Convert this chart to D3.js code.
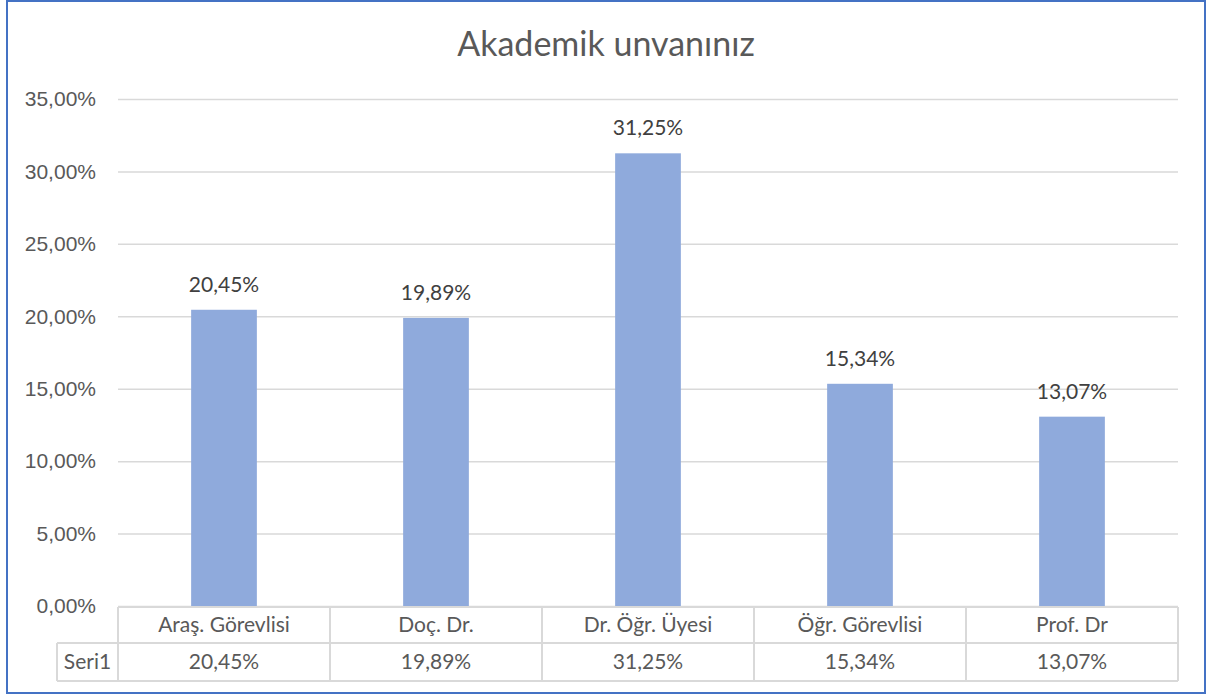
<!DOCTYPE html>
<html>
<head>
<meta charset="utf-8">
<script src="https://cdn.jsdelivr.net/npm/d3@7"></script>
<style>
  body { margin: 0; background: #fff; }
  svg { display: block; font-family: Lato, "Noto Sans", sans-serif; }
</style>
</head>
<body>
<script>
// chart data
var categories = ["Araş. Görevlisi", "Doç. Dr.", "Dr. Öğr. Üyesi", "Öğr. Görevlisi", "Prof. Dr"];
var values = [20.45, 19.89, 31.25, 15.34, 13.07];
var seriesName = "Seri1";
var yTicks = [0, 5, 10, 15, 20, 25, 30, 35];

var W = 1208, H = 695;
var margin = {top: 99, right: 30, bottom: 89, left: 118},
    width = W - margin.left - margin.right,
    height = H - margin.top - margin.bottom;

var fmt = function (v) { return v.toFixed(2).replace(".", ",") + "%"; };

var svg = d3.select("body")
  .append("svg")
  .attr("width", W)
  .attr("height", H);

// outer frame
svg.append("rect")
  .attr("x", 7).attr("y", 1)
  .attr("width", 1198).attr("height", 692)
  .attr("fill", "#fff")
  .attr("stroke", "#4472C4")
  .attr("stroke-width", 2);

svg.append("text")
  .text("Akademik unvanınız")
  .attr("x", 606).attr("y", 56)
  .attr("text-anchor", "middle")
  .attr("fill", "#595959")
  .style("font-size", "34px");

var chart = svg.append("g")
  .attr("transform", "translate(" + margin.left + "," + margin.top + ")");

var xscale = d3.scaleBand()
  .domain(categories)
  .range([0, width])
  .paddingInner(0.69)
  .paddingOuter(0.345);

var xcol = d3.scaleBand()
  .domain(categories)
  .range([0, width]);

var yscale = d3.scaleLinear()
  .domain([0, 35])
  .range([height, 0]);

// gridlines + tick labels
var yAxis = chart.append("g")
  .call(d3.axisLeft(yscale).tickValues(yTicks).tickSize(-width).tickFormat(fmt).tickPadding(22));
yAxis.select(".domain").remove();
yAxis.selectAll("line").attr("stroke", "#d9d9d9").attr("stroke-width", 1.5);
yAxis.selectAll("text").attr("fill", "#595959").style("font-size", "21px").attr("font-family", null);

// bars
chart.selectAll(".bar")
  .data(values)
  .enter()
  .append("rect")
  .attr("x", (d, i) => xscale(categories[i]))
  .attr("y", d => yscale(d))
  .attr("width", xscale.bandwidth())
  .attr("height", d => height - yscale(d))
  .attr("fill", "#8FAADC");

// data labels
chart.selectAll(".lbl")
  .data(values)
  .enter()
  .append("text")
  .text(fmt)
  .attr("x", (d, i) => xscale(categories[i]) + xscale.bandwidth() / 2)
  .attr("y", d => yscale(d) - 18)
  .attr("text-anchor", "middle")
  .attr("fill", "#404040")
  .style("font-size", "21px");

// data table
var rowH1 = 36, rowH2 = 38, keyW = 61;
var table = chart.append("g").attr("transform", "translate(0," + (height + 1) + ")");
var lineColor = "#d9d9d9";

table.append("line").attr("x1", 0).attr("x2", width).attr("y1", 0).attr("y2", 0);
table.append("line").attr("x1", -keyW).attr("x2", width).attr("y1", rowH1).attr("y2", rowH1);
table.append("line").attr("x1", -keyW).attr("x2", width).attr("y1", rowH1 + rowH2).attr("y2", rowH1 + rowH2);
table.append("line").attr("x1", -keyW).attr("x2", -keyW).attr("y1", rowH1).attr("y2", rowH1 + rowH2);
table.selectAll(".col")
  .data(categories.concat([null]))
  .enter()
  .append("line")
  .attr("x1", (d, i) => i * xcol.bandwidth())
  .attr("x2", (d, i) => i * xcol.bandwidth())
  .attr("y1", 0)
  .attr("y2", rowH1 + rowH2);
table.selectAll("line").attr("stroke", lineColor).attr("stroke-width", 2);

table.selectAll(".cat")
  .data(categories)
  .enter()
  .append("text")
  .text(d => d)
  .attr("x", d => xcol(d) + xcol.bandwidth() / 2)
  .attr("y", rowH1 / 2)
  .attr("dy", "0.35em")
  .attr("text-anchor", "middle")
  .attr("fill", "#595959")
  .style("font-size", "21px");

table.selectAll(".val")
  .data(values)
  .enter()
  .append("text")
  .text(fmt)
  .attr("x", (d, i) => xcol(categories[i]) + xcol.bandwidth() / 2)
  .attr("y", rowH1 + rowH2 / 2)
  .attr("dy", "0.35em")
  .attr("text-anchor", "middle")
  .attr("fill", "#595959")
  .style("font-size", "21px");

table.append("text")
  .text(seriesName)
  .attr("x", -keyW / 2)
  .attr("y", rowH1 + rowH2 / 2)
  .attr("dy", "0.35em")
  .attr("text-anchor", "middle")
  .attr("fill", "#595959")
  .style("font-size", "21px");
</script>
</body>
</html>
